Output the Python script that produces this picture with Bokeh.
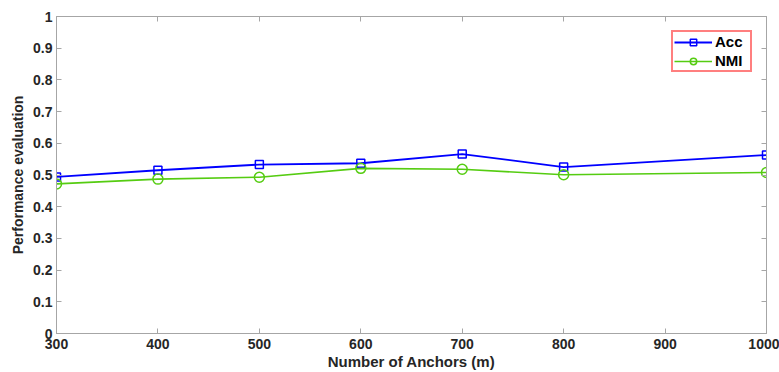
from bokeh.plotting import figure
from bokeh.models import (FixedTicker, LinearAxis, Range1d, CustomJSTickFormatter,
                          Legend, LegendItem, ColumnDataSource)
from bokeh.embed import file_html
from bokeh.resources import INLINE

anchors_acc = [300, 400, 500, 600, 700, 800, 1000]
acc = [0.494, 0.515, 0.533, 0.537, 0.566, 0.525, 0.563]
anchors_nmi = [300, 400, 500, 600, 700, 800, 1000]
nmi = [0.472, 0.487, 0.493, 0.521, 0.518, 0.501, 0.508]
x_ticks = [300, 400, 500, 600, 700, 800, 900, 1000]
y_ticks = [0, 0.1, 0.2, 0.3, 0.4, 0.5, 0.6, 0.7, 0.8, 0.9, 1]

FONT = "Liberation Sans"
AXC = "#a6a6a6"
TXT = "#262626"

p = figure(width=779, height=372, output_backend="svg", toolbar_location=None,
           x_range=Range1d(300, 1000), y_range=Range1d(0, 1),
           min_border_left=56, min_border_right=13, min_border_top=16, min_border_bottom=39,
           x_axis_label="Number of Anchors (m)", y_axis_label="Performance evaluation")
p.xgrid.visible = False
p.ygrid.visible = False
p.outline_line_color = AXC
p.background_fill_color = "white"
p.border_fill_color = "white"

def style(ax, labels=True, label_size="14px"):
    ax.axis_line_color = AXC
    ax.major_tick_line_color = AXC
    ax.minor_tick_line_color = None
    ax.major_tick_in = 5
    ax.major_tick_out = 0
    ax.major_label_text_font = FONT
    ax.major_label_text_font_style = "bold"
    ax.major_label_text_font_size = "14px"
    ax.major_label_text_color = TXT
    ax.axis_label_text_font = FONT
    ax.axis_label_text_font_style = "bold"
    ax.axis_label_text_font_size = label_size
    ax.axis_label_text_color = TXT
    if not labels:
        ax.major_label_text_font_size = "0px"
        ax.major_label_text_color = None

xfmt = CustomJSTickFormatter(code="return String(Math.round(tick));")
yfmt = CustomJSTickFormatter(code="return String(Math.round(tick*10)/10);")

p.xaxis.ticker = FixedTicker(ticks=x_ticks)
p.yaxis.ticker = FixedTicker(ticks=y_ticks)
p.xaxis.formatter = xfmt
p.yaxis.formatter = yfmt
style(p.xaxis[0], label_size="15px")
style(p.yaxis[0], label_size="14px")
p.xaxis.major_label_standoff = 5
p.yaxis.major_label_standoff = 4
p.xaxis.axis_label_standoff = 1
p.yaxis.axis_label_standoff = 4

top = LinearAxis(ticker=FixedTicker(ticks=x_ticks), formatter=xfmt)
right = LinearAxis(ticker=FixedTicker(ticks=y_ticks), formatter=yfmt)
style(top, False)
style(right, False)
top.major_label_standoff = 0
right.major_label_standoff = 0
p.add_layout(top, "above")
p.add_layout(right, "right")

BLUE = "#0000ff"
GREEN = "#55cc11"

src_a = ColumnDataSource(dict(x=anchors_acc, y=acc))
src_n = ColumnDataSource(dict(x=anchors_nmi, y=nmi))
la = p.line("x", "y", source=src_a, line_color=BLUE, line_width=1.8)
ma = p.scatter("x", "y", source=src_a, marker="square", size=8, fill_color=None,
               line_color=BLUE, line_width=1.5)
ln = p.line("x", "y", source=src_n, line_color=GREEN, line_width=1.6)
mn = p.scatter("x", "y", source=src_n, marker="circle", size=10, fill_color=None,
               line_color=GREEN, line_width=1.5)

legend = Legend(items=[LegendItem(label="Acc", renderers=[la, ma]),
                       LegendItem(label="NMI", renderers=[ln, mn])],
                location="top_right")
legend.margin = 14
legend.padding = 1
legend.spacing = 2
legend.glyph_width = 38
legend.glyph_height = 16
legend.label_standoff = 3
legend.label_height = 16
legend.label_width = 34
legend.label_text_font = FONT
legend.label_text_font_style = "bold"
legend.label_text_font_size = "15px"
legend.label_text_color = "black"
legend.border_line_color = "#ff0000"
legend.border_line_width = 2
legend.background_fill_color = "white"
legend.background_fill_alpha = 1
p.add_layout(legend, "center")

open("out.html", "w").write(file_html(p, INLINE))
